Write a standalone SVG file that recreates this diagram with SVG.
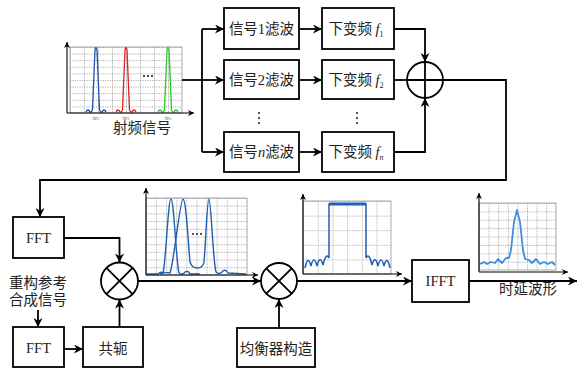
<svg xmlns="http://www.w3.org/2000/svg" width="580" height="368" viewBox="0 0 580 368">
<defs>
<marker id="ah" viewBox="0 0 10 10" refX="10" refY="5" markerWidth="10" markerHeight="9" markerUnits="userSpaceOnUse" orient="auto"><path d="M0,0 L10,5 L0,10 L3,5 z" fill="#000"/></marker>
<marker id="ahs" viewBox="0 0 10 10" refX="10" refY="5" markerWidth="7" markerHeight="6" markerUnits="userSpaceOnUse" orient="auto"><path d="M0,0 L10,5 L0,10 L3,5 z" fill="#000"/></marker>
<pattern id="g0" x="70" y="47" width="14" height="6.6" patternUnits="userSpaceOnUse"><path d="M0.5,0 V6.6 M0,0.5 H14" fill="none" stroke="#999" stroke-width="0.8" stroke-dasharray="1.2,1.2"/></pattern>
<pattern id="g1" x="146" y="198" width="10.1" height="7.7" patternUnits="userSpaceOnUse"><path d="M0.5,0 V7.7 M0,0.5 H10.1" fill="none" stroke="#999" stroke-width="0.8" stroke-dasharray="1.2,1.2"/></pattern>
<pattern id="g2" x="303" y="201" width="14.7" height="14.6" patternUnits="userSpaceOnUse"><path d="M0.5,0 V14.6 M0,0.5 H14.7" fill="none" stroke="#999" stroke-width="0.8" stroke-dasharray="1.2,1.2"/></pattern>
<pattern id="g3" x="479" y="203" width="9.6" height="8.4" patternUnits="userSpaceOnUse"><path d="M0.5,0 V8.4 M0,0.5 H9.6" fill="none" stroke="#999" stroke-width="0.8" stroke-dasharray="1.2,1.2"/></pattern>
</defs>
<style>
.box{fill:#fff;stroke:#000;stroke-width:1.8}
.ln{fill:none;stroke:#000;stroke-width:1.8}
.ax{fill:none;stroke:#000;stroke-width:1.1}
.t{font-family:"Liberation Serif","Noto Sans CJK SC",serif;font-size:14.5px;fill:#222;text-anchor:middle}
.tiny{font-family:"Liberation Serif",serif;font-size:4px;font-style:italic;fill:#444;text-anchor:middle}
.gb{fill:none;stroke:#888;stroke-width:0.7}
.dot{fill:#222}
</style>

<!-- RF spectrum plot -->
<g id="plot-rf">
<rect x="70" y="47" width="112" height="66" fill="url(#g0)"/>
<rect x="70" y="47" width="112" height="66" class="gb"/>
<path d="M86,112 Q88,108 90,112 Q91,113 92.5,110 L95,50 Q96,45 97,50 L99.5,110 Q101,113 102,112 Q104,108 106,112" fill="none" stroke="#1f4fa8" stroke-width="1.3"/>
<path d="M116,112 Q118,108 120,112 Q121,113 122.5,110 L125,50 Q126,45 127,50 L129.5,110 Q131,113 132,112 Q134,108 136,112" fill="none" stroke="#e02020" stroke-width="1.3"/>
<path d="M158,112 Q160,108 162,112 Q163,113 164.5,110 L167,50 Q168,45 169,50 L171.5,110 Q173,113 174,112 Q176,108 178,112" fill="none" stroke="#22cc22" stroke-width="1.3"/>
<circle class="dot" cx="144" cy="76" r="1.1"/><circle class="dot" cx="148" cy="76" r="1.1"/><circle class="dot" cx="152" cy="76" r="1.1"/>
<line class="ax" x1="67" y1="113" x2="67" y2="42" marker-end="url(#ahs)"/>
<line class="ax" x1="67" y1="113" x2="194" y2="113" marker-end="url(#ahs)"/>
<text class="tiny" x="96" y="119">f<tspan font-size="3" dy="1">RF1</tspan></text>
<text class="tiny" x="126" y="119">f<tspan font-size="3" dy="1">RF2</tspan></text>
<text class="tiny" x="168" y="119">f<tspan font-size="3" dy="1">RFn</tspan></text>
<text class="t" x="142" y="133" font-size="15">射频信号</text>
</g>

<!-- filter boxes -->
<g id="filt1"><rect class="box" x="224" y="8" width="75" height="41"/><text class="t" x="261.5" y="34">信号1滤波</text></g>
<g id="filt2"><rect class="box" x="224" y="60" width="75" height="39"/><text class="t" x="261.5" y="85">信号2滤波</text></g>
<g id="filtn"><rect class="box" x="224" y="132" width="75" height="40"/><text class="t" x="261.5" y="157">信号<tspan font-style="italic">n</tspan>滤波</text></g>
<g id="vdots1"><circle class="dot" cx="259" cy="113" r="1"/><circle class="dot" cx="259" cy="118" r="1"/><circle class="dot" cx="259" cy="123" r="1"/></g>

<!-- downconversion boxes -->
<g id="dc1"><rect class="box" x="322" y="8" width="72" height="41"/><text class="t" x="356" y="34">下变频 <tspan font-style="italic">f</tspan><tspan font-size="8" dy="3">1</tspan></text></g>
<g id="dc2"><rect class="box" x="322" y="60" width="72" height="39"/><text class="t" x="356" y="85">下变频 <tspan font-style="italic">f</tspan><tspan font-size="8" dy="3">2</tspan></text></g>
<g id="dcn"><rect class="box" x="322" y="132" width="72" height="40"/><text class="t" x="356" y="157">下变频 <tspan font-style="italic">f</tspan><tspan font-size="8" font-style="italic" dy="3">n</tspan></text></g>
<g id="vdots2"><circle class="dot" cx="357" cy="113" r="1"/><circle class="dot" cx="357" cy="118" r="1"/><circle class="dot" cx="357" cy="123" r="1"/></g>

<!-- summer -->
<g id="sum"><circle cx="425" cy="80" r="18" fill="#fff" stroke="#000" stroke-width="1.8"/><path class="ln" d="M407,80 H443 M425,62 V98"/></g>

<!-- FFT / reference -->
<g id="fft1"><rect class="box" x="13" y="217" width="51" height="41"/><text class="t" x="38.5" y="243" font-size="15">FFT</text></g>
<g id="ref-label"><text class="t" x="38" y="288" font-size="14">重构参考</text><text class="t" x="38" y="305" font-size="14">合成信号</text></g>
<g id="fft2"><rect class="box" x="13" y="327" width="51" height="40"/><text class="t" x="38.5" y="353" font-size="15">FFT</text></g>
<g id="conj"><rect class="box" x="83" y="327" width="60" height="40"/><text class="t" x="113" y="354" font-size="15">共轭</text></g>
<g id="mult1"><circle cx="119.5" cy="281" r="18.5" fill="#fff" stroke="#000" stroke-width="1.8"/><path class="ln" d="M106.4,267.9 L132.6,294.1 M132.6,267.9 L106.4,294.1"/></g>
<g id="mult2"><circle cx="279" cy="281" r="18" fill="#fff" stroke="#000" stroke-width="1.8"/><path class="ln" d="M266.3,268.3 L291.7,293.7 M291.7,268.3 L266.3,293.7"/></g>
<g id="eq"><rect class="box" x="237" y="328" width="78" height="39"/><text class="t" x="276" y="354" font-size="15">均衡器构造</text></g>
<g id="ifft"><rect class="box" x="412" y="260" width="57" height="42"/><text class="t" x="440.5" y="286" font-size="15">IFFT</text></g>
<g id="out-label"><text class="t" x="528" y="294" font-size="14">时延波形</text></g>

<!-- plot 1 -->
<g id="plot1">
<rect x="146" y="198" width="101" height="77" fill="url(#g1)"/>
<rect x="146" y="198" width="101" height="77" class="gb"/>
<path d="M147,274 L158,274 Q161,271 163,273 C166,262 168,199 171,199 C174,199 176,262 179,273 Q182,276 185,272 Q188,270 190,274 L200,274" fill="none" stroke="#1f5fb0" stroke-width="1.4"/>
<path d="M160,274 Q166,272 170,273 C174,262 180,199 183,199 C186,199 188,240 190,262 Q192,268 197,268 Q203,268 204,262 C206,240 207,199 209,199 C211,199 213,262 216,272 Q219,275 222,272 Q225,268 228,273 L246,274" fill="none" stroke="#1f5fb0" stroke-width="1.4"/>
<circle class="dot" cx="193" cy="234" r="1"/><circle class="dot" cx="197" cy="234" r="1"/><circle class="dot" cx="201" cy="234" r="1"/>
<line class="ax" x1="146" y1="275" x2="146" y2="188" marker-end="url(#ahs)"/>
<line class="ax" x1="146" y1="275" x2="258" y2="275" marker-end="url(#ahs)"/>
</g>

<!-- plot 2 -->
<g id="plot2">
<rect x="303" y="201" width="88" height="73" fill="url(#g2)"/>
<rect x="303" y="201" width="88" height="73" class="gb"/>
<path d="M305,268 Q308,254 311,266 Q314,254 317,266 Q320,254 323,265 Q326,252 329,258 L329,204 L366,204 L366,258 Q369,252 372,265 Q375,254 378,266 Q381,254 384,266 Q387,254 390,268" fill="none" stroke="#1f5fb0" stroke-width="1.5"/>
<line x1="329" y1="204" x2="366" y2="204" stroke="#1f5fb0" stroke-width="2.8"/>
<line class="ax" x1="303" y1="274" x2="303" y2="194" marker-end="url(#ahs)"/>
<line class="ax" x1="303" y1="274" x2="402" y2="274" marker-end="url(#ahs)"/>
</g>

<!-- plot 3 -->
<g id="plot3">
<rect x="479" y="203" width="77" height="67" fill="url(#g3)"/>
<rect x="479" y="203" width="77" height="67" class="gb"/>
<path d="M480,264 L484,262 L487,264 L491,262 L495,263 L498,259 L502,263 L506,258 L509,258 L511,250 L514,222 L517,210 L520,222 L523,250 L525,259 L529,260 L532,263 L536,259 L540,264 L544,262 L548,264 L552,262 L555,265" fill="none" stroke="#3d8fe0" stroke-width="1.8" stroke-linejoin="round"/>
<line class="ax" x1="479" y1="272" x2="479" y2="193" marker-end="url(#ahs)"/>
<line class="ax" x1="479" y1="272" x2="568" y2="272" marker-end="url(#ahs)"/>
</g>

<!-- connectors -->
<g id="connectors">
<path class="ln" d="M182,80 H202"/>
<path class="ln" d="M202,29 V152"/>
<path class="ln" d="M202,29 H224" marker-end="url(#ah)"/>
<path class="ln" d="M202,80 H224" marker-end="url(#ah)"/>
<path class="ln" d="M202,152 H224" marker-end="url(#ah)"/>
<path class="ln" d="M299,29 H322" marker-end="url(#ah)"/>
<path class="ln" d="M299,80 H322" marker-end="url(#ah)"/>
<path class="ln" d="M299,152 H322" marker-end="url(#ah)"/>
<path class="ln" d="M394,29 H425 V62" marker-end="url(#ah)"/>
<path class="ln" d="M394,152 H425 V98" marker-end="url(#ah)"/>
<path class="ln" d="M394,80 H407"/>
<path class="ln" d="M443,80 H506 V180 H40 V217" marker-end="url(#ah)"/>
<path class="ln" d="M64,238 H119.5 V262.5" marker-end="url(#ah)"/>
<path class="ln" d="M38,310 V327" marker-end="url(#ah)"/>
<path class="ln" d="M64,349 H83" marker-end="url(#ah)"/>
<path class="ln" d="M119.5,327 V299.5" marker-end="url(#ah)"/>
<path class="ln" d="M138,281 H261" marker-end="url(#ah)"/>
<path class="ln" d="M279,328 V299" marker-end="url(#ah)"/>
<path class="ln" d="M297,281 H412" marker-end="url(#ah)"/>
<path class="ln" d="M469,281 H577" marker-end="url(#ah)"/>
</g>
</svg>
